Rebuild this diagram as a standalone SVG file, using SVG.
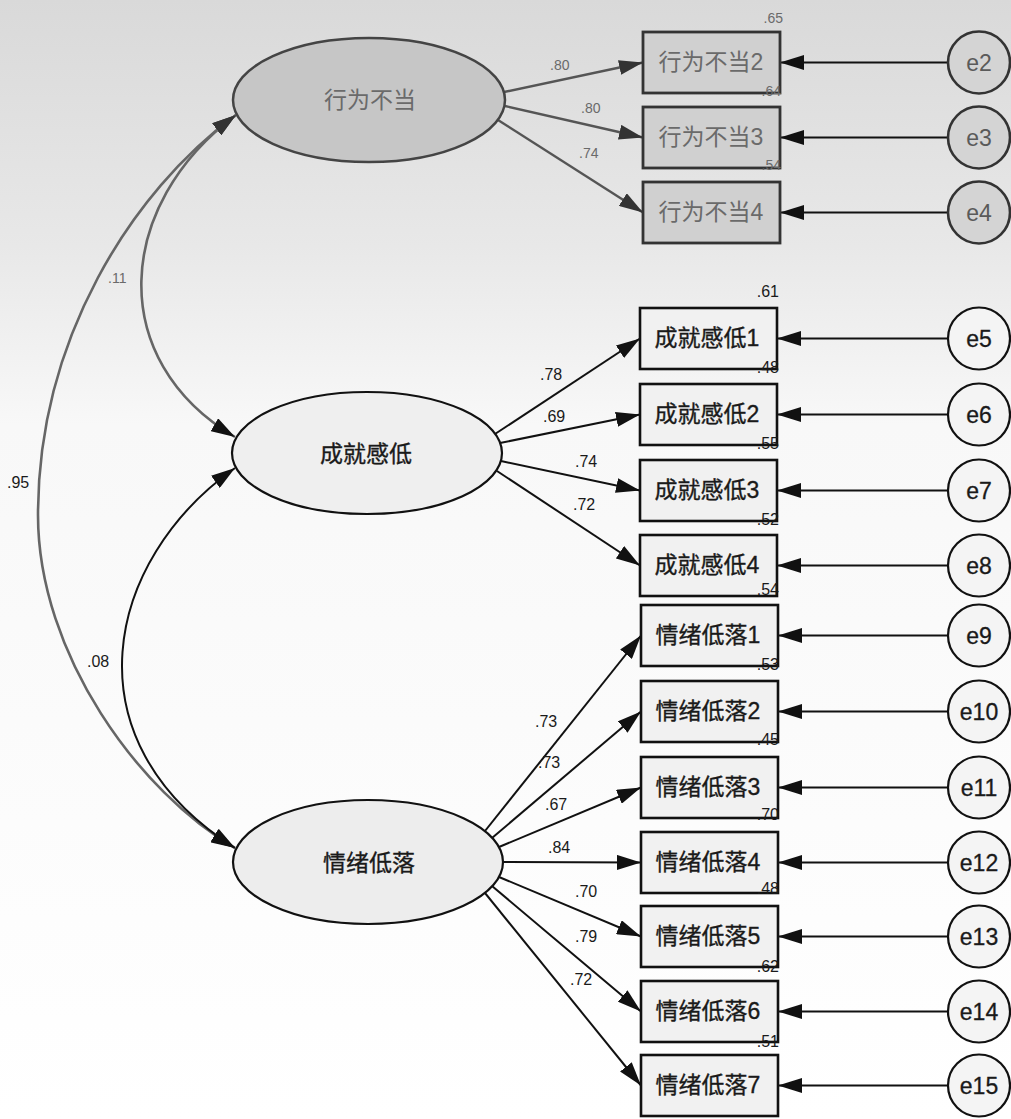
<svg xmlns="http://www.w3.org/2000/svg" width="1011" height="1119" viewBox="0 0 1011 1119">
<defs>
<linearGradient id="bg" x1="0" y1="0" x2="0" y2="1">
<stop offset="0" stop-color="#d9d9d9"/>
<stop offset="0.22" stop-color="#e8e8e8"/>
<stop offset="0.38" stop-color="#f8f8f8"/>
<stop offset="1" stop-color="#ffffff"/>
</linearGradient>
<marker id="ah" markerUnits="userSpaceOnUse" markerWidth="24" markerHeight="15" refX="24" refY="7.5" orient="auto-start-reverse" viewBox="0 0 24 15">
<path d="M0,0 L24,7.5 L0,15 z" fill="#111"/>
</marker>
<marker id="ahg" markerUnits="userSpaceOnUse" markerWidth="24" markerHeight="15" refX="24" refY="7.5" orient="auto-start-reverse" viewBox="0 0 24 15">
<path d="M0,0 L24,7.5 L0,15 z" fill="#333"/>
</marker>
</defs>
<style>
text{font-family:"Liberation Sans","Noto Sans CJK SC",Arial,sans-serif}
.lat{stroke:#111;stroke-width:2.2}
.latg{fill:#c6c6c6;stroke:#444;stroke-width:2.5}
.box{fill:#f1f1f1;stroke:#111;stroke-width:2.6}
.boxg{fill:#d0d0d0;stroke:#333;stroke-width:2.8}
.err{fill:#f4f4f4;stroke:#111;stroke-width:2.2}
.errg{fill:#d4d4d4;stroke:#333;stroke-width:2.6}
.nt{font-size:23px;fill:#1a1a1a;stroke:#1a1a1a;stroke-width:0.35;text-anchor:middle}
.ntg{font-size:23px;fill:#6a6a6a;text-anchor:middle}
.et{font-size:23px;fill:#1a1a1a;stroke:#1a1a1a;stroke-width:0.3;text-anchor:middle}
.etg{font-size:23px;fill:#5a5a5a;text-anchor:middle}
.lb{font-size:16px;fill:#1a1a1a}
.lbg{font-size:14px;fill:#6a6a6a}
.r2{font-size:16px;fill:#1a1a1a;text-anchor:end}
.r2g{font-size:14px;fill:#6a6a6a;text-anchor:end}
.c{fill:none;stroke:#111;stroke-width:2;marker-end:url(#ah)}
.cg{fill:none;stroke:#555;stroke-width:2.4;marker-end:url(#ahg)}
.cv{fill:none;stroke:#111;stroke-width:2;marker-start:url(#ah);marker-end:url(#ah)}
.cvg{fill:none;stroke:#666;stroke-width:2.6;marker-start:url(#ahg);marker-end:url(#ah)}
</style>
<rect x="0" y="0" width="1011" height="1119" fill="url(#bg)"/>

<g id="connectors">
<path class="cvg" d="M236,115 C131,192 38,340 38,515 C38,655 140,793 235,848"/>
<path class="cvg" d="M236,115 C115,205 105,360 235,437"/>
<path class="cv" d="M235,468 C105,560 65,740 235,848"/>

<line class="cg" x1="504" y1="92" x2="643" y2="62.5"/>
<line class="cg" x1="505" y1="106" x2="643" y2="137.5"/>
<line class="cg" x1="498" y1="120" x2="643" y2="212.5"/>

<line class="c" x1="495" y1="434" x2="640" y2="338.5"/>
<line class="c" x1="500" y1="443" x2="640" y2="414.5"/>
<line class="c" x1="501" y1="461" x2="640" y2="490.5"/>
<line class="c" x1="497" y1="471" x2="640" y2="565.5"/>

<line class="c" x1="485" y1="831" x2="641" y2="635.5"/>
<line class="c" x1="492" y1="838" x2="641" y2="711.5"/>
<line class="c" x1="499" y1="847" x2="641" y2="787.5"/>
<line class="c" x1="503" y1="862" x2="641" y2="862.5"/>
<line class="c" x1="499" y1="877" x2="641" y2="936.5"/>
<line class="c" x1="492" y1="886" x2="641" y2="1011.5"/>
<line class="c" x1="485" y1="893" x2="641" y2="1085.5"/>

<line class="c" x1="948" y1="62.5" x2="780" y2="62.5"/>
<line class="c" x1="948" y1="137.5" x2="780" y2="137.5"/>
<line class="c" x1="948" y1="212.5" x2="780" y2="212.5"/>
<line class="c" x1="948" y1="338.5" x2="777" y2="338.5"/>
<line class="c" x1="948" y1="414.5" x2="777" y2="414.5"/>
<line class="c" x1="948" y1="490.5" x2="777" y2="490.5"/>
<line class="c" x1="948" y1="565.5" x2="777" y2="565.5"/>
<line class="c" x1="948" y1="635.5" x2="778" y2="635.5"/>
<line class="c" x1="948" y1="711.5" x2="778" y2="711.5"/>
<line class="c" x1="948" y1="787.5" x2="778" y2="787.5"/>
<line class="c" x1="948" y1="862.5" x2="778" y2="862.5"/>
<line class="c" x1="948" y1="936.5" x2="778" y2="936.5"/>
<line class="c" x1="948" y1="1011.5" x2="778" y2="1011.5"/>
<line class="c" x1="948" y1="1085.5" x2="778" y2="1085.5"/>

<text class="lb" x="7" y="488">.95</text>
<text class="lbg" x="108" y="283">.11</text>
<text class="lb" x="87" y="667">.08</text>

<text class="lbg" x="550" y="70">.80</text>
<text class="lbg" x="581" y="113">.80</text>
<text class="lbg" x="579" y="158">.74</text>

<text class="lb" x="540" y="380">.78</text>
<text class="lb" x="543" y="422">.69</text>
<text class="lb" x="575" y="467">.74</text>
<text class="lb" x="573" y="510">.72</text>

<text class="lb" x="535" y="727">.73</text>
<text class="lb" x="538" y="768">.73</text>
<text class="lb" x="545" y="810">.67</text>
<text class="lb" x="548" y="853">.84</text>
<text class="lb" x="575" y="897">.70</text>
<text class="lb" x="575" y="942">.79</text>
<text class="lb" x="570" y="985">.72</text>
</g>

<g id="F1"><ellipse class="latg" cx="369" cy="100" rx="136" ry="62"/><text class="ntg" x="370" y="108">行为不当</text></g>
<g id="F2"><ellipse class="lat" fill="#efefef" cx="367" cy="453" rx="135" ry="61"/><text class="nt" x="366" y="462">成就感低</text></g>
<g id="F3"><ellipse class="lat" fill="#ededed" cx="368" cy="862" rx="135" ry="62"/><text class="nt" x="369" y="871">情绪低落</text></g>

<g id="X2"><rect class="boxg" x="643" y="32" width="137" height="61"/><text class="ntg" x="711" y="70">行为不当2</text></g>
<g id="X3"><rect class="boxg" x="643" y="107" width="137" height="61"/><text class="ntg" x="711" y="145">行为不当3</text></g>
<g id="X4"><rect class="boxg" x="643" y="182" width="137" height="61"/><text class="ntg" x="711" y="220">行为不当4</text></g>

<g id="A1"><rect class="box" x="640" y="308" width="137" height="61"/><text class="nt" x="707" y="346">成就感低1</text></g>
<g id="A2"><rect class="box" x="640" y="384" width="137" height="61"/><text class="nt" x="707" y="422">成就感低2</text></g>
<g id="A3"><rect class="box" x="640" y="460" width="137" height="61"/><text class="nt" x="707" y="498">成就感低3</text></g>
<g id="A4"><rect class="box" x="640" y="535" width="137" height="61"/><text class="nt" x="707" y="573">成就感低4</text></g>

<g id="D1"><rect class="box" x="641" y="605" width="137" height="61"/><text class="nt" x="708" y="643">情绪低落1</text></g>
<g id="D2"><rect class="box" x="641" y="681" width="137" height="61"/><text class="nt" x="708" y="719">情绪低落2</text></g>
<g id="D3"><rect class="box" x="641" y="757" width="137" height="61"/><text class="nt" x="708" y="795">情绪低落3</text></g>
<g id="D4"><rect class="box" x="641" y="832" width="137" height="61"/><text class="nt" x="708" y="870">情绪低落4</text></g>
<g id="D5"><rect class="box" x="641" y="906" width="137" height="61"/><text class="nt" x="708" y="944">情绪低落5</text></g>
<g id="D6"><rect class="box" x="641" y="981" width="137" height="61"/><text class="nt" x="708" y="1019">情绪低落6</text></g>
<g id="D7"><rect class="box" x="641" y="1055" width="137" height="61"/><text class="nt" x="708" y="1093">情绪低落7</text></g>

<g id="r2labels">
<text class="r2g" x="783" y="23">.65</text>
<text class="r2g" x="781" y="96">.64</text>
<text class="r2g" x="781" y="170">.54</text>
<text class="r2" x="779" y="297">.61</text>
<text class="r2" x="779" y="373">.48</text>
<text class="r2" x="779" y="449">.55</text>
<text class="r2" x="779" y="525">.52</text>
<text class="r2" x="779" y="595">.54</text>
<text class="r2" x="779" y="670">.53</text>
<text class="r2" x="779" y="745">.45</text>
<text class="r2" x="779" y="820">.70</text>
<text class="r2" x="779" y="894">.48</text>
<text class="r2" x="779" y="972">.62</text>
<text class="r2" x="779" y="1047">.51</text>
</g>

<g id="e2"><circle class="errg" cx="979" cy="62.5" r="31"/><text class="etg" x="979" y="71">e2</text></g>
<g id="e3"><circle class="errg" cx="979" cy="137.5" r="31"/><text class="etg" x="979" y="146">e3</text></g>
<g id="e4"><circle class="errg" cx="979" cy="212.5" r="31"/><text class="etg" x="979" y="221">e4</text></g>
<g id="e5"><circle class="err" cx="979" cy="338.5" r="31"/><text class="et" x="979" y="347">e5</text></g>
<g id="e6"><circle class="err" cx="979" cy="414.5" r="31"/><text class="et" x="979" y="423">e6</text></g>
<g id="e7"><circle class="err" cx="979" cy="490.5" r="31"/><text class="et" x="979" y="499">e7</text></g>
<g id="e8"><circle class="err" cx="979" cy="565.5" r="31"/><text class="et" x="979" y="574">e8</text></g>
<g id="e9"><circle class="err" cx="979" cy="635.5" r="31"/><text class="et" x="979" y="644">e9</text></g>
<g id="e10"><circle class="err" cx="979" cy="711.5" r="31"/><text class="et" x="979" y="720">e10</text></g>
<g id="e11"><circle class="err" cx="979" cy="787.5" r="31"/><text class="et" x="979" y="796">e11</text></g>
<g id="e12"><circle class="err" cx="979" cy="862.5" r="31"/><text class="et" x="979" y="871">e12</text></g>
<g id="e13"><circle class="err" cx="979" cy="936.5" r="31"/><text class="et" x="979" y="945">e13</text></g>
<g id="e14"><circle class="err" cx="979" cy="1011.5" r="31"/><text class="et" x="979" y="1020">e14</text></g>
<g id="e15"><circle class="err" cx="979" cy="1085.5" r="31"/><text class="et" x="979" y="1094">e15</text></g>
</svg>
